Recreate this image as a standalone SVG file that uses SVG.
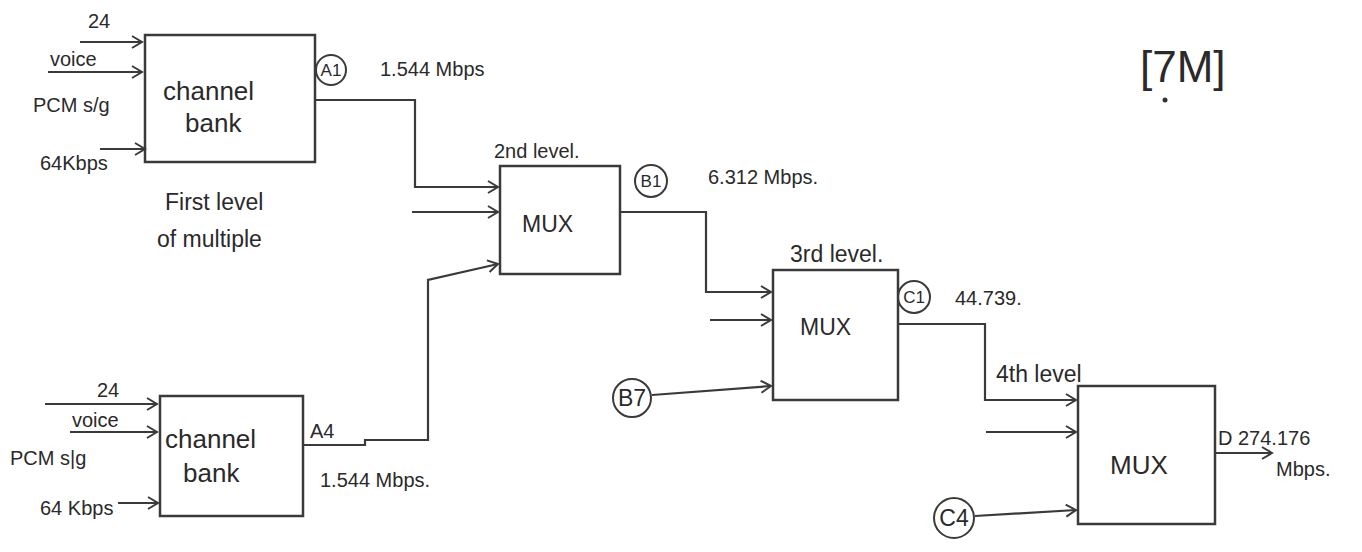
<svg xmlns="http://www.w3.org/2000/svg" width="1362" height="552" viewBox="0 0 1362 552">
<style>
.b{fill:none;stroke:#3a3a3a;stroke-width:2.5}
.w{fill:none;stroke:#3a3a3a;stroke-width:2.2}
.a{fill:none;stroke:#3a3a3a;stroke-width:2.2;marker-end:url(#ah)}
.c{fill:none;stroke:#3a3a3a;stroke-width:2}
text{font-family:"Liberation Sans",sans-serif;fill:#2a2a2a}
.t{font-size:23px}
.s{font-size:20px}
.m{font-size:17px;text-anchor:middle}
.bx{font-size:26px}
</style>
<defs>
<marker id="ah" markerWidth="14" markerHeight="14" refX="12" refY="7" orient="auto" markerUnits="userSpaceOnUse">
<path d="M2,1 L12,7 L2,13" fill="none" stroke="#3a3a3a" stroke-width="2"/>
</marker>
</defs>
<rect width="1362" height="552" fill="#fff"/>
<g id="cb1">
<rect class="b" x="145" y="35" width="170" height="127"/>
<text class="bx" x="163" y="100">channel</text>
<text class="bx" x="185" y="132">bank</text>
</g>
<g id="cb1-labels">
<text class="s" x="88" y="28">24</text>
<text class="s" x="50" y="66">voice</text>
<text class="s" x="33" y="112">PCM s/g</text>
<text class="s" x="40" y="170">64Kbps</text>
<text class="t" x="165" y="210">First level</text>
<text class="t" x="157" y="247">of multiple</text>
</g>
<g id="cb2">
<rect class="b" x="160" y="396" width="143" height="120"/>
<text class="bx" x="165" y="448">channel</text>
<text class="bx" x="183" y="482">bank</text>
</g>
<g id="cb2-labels">
<text class="s" x="97" y="397">24</text>
<text class="s" x="72" y="427">voice</text>
<text class="s" x="10" y="465">PCM s|g</text>
<text class="s" x="40" y="515">64 Kbps</text>
</g>
<g id="mux1">
<rect class="b" x="500" y="166" width="120" height="108"/>
<text class="t" x="522" y="232">MUX</text>
<text class="s" x="494" y="158">2nd level.</text>
</g>
<g id="mux2">
<rect class="b" x="773" y="270" width="125" height="130"/>
<text class="t" x="800" y="335">MUX</text>
<text class="t" x="790" y="262">3rd level.</text>
</g>
<g id="mux3">
<rect class="b" x="1078" y="386" width="137" height="138"/>
<text class="bx" x="1110" y="474">MUX</text>
<text class="t" x="996" y="382">4th level</text>
</g>
<g id="a1">
<circle class="c" cx="331" cy="70" r="15"/>
<text class="m" x="331" y="76">A1</text>
<text class="s" x="380" y="76">1.544 Mbps</text>
</g>
<g id="a4">
<text class="s" x="310" y="438">A4</text>
<text class="s" x="320" y="487">1.544 Mbps.</text>
</g>
<g id="b1">
<circle class="c" cx="651" cy="181" r="16"/>
<text class="m" x="651" y="187">B1</text>
<text class="s" x="708" y="184">6.312 Mbps.</text>
</g>
<g id="b7">
<circle class="c" cx="632" cy="398" r="19"/>
<text class="t" x="632" y="406" text-anchor="middle">B7</text>
</g>
<g id="c1">
<circle class="c" cx="914" cy="297" r="16"/>
<text class="m" x="914" y="303">C1</text>
<text class="s" x="955" y="305">44.739.</text>
</g>
<g id="c4">
<circle class="c" cx="954" cy="518" r="20"/>
<text class="t" x="954" y="526" text-anchor="middle">C4</text>
</g>
<g id="d">
<text class="s" x="1218" y="445">D 274.176</text>
<text class="s" x="1276" y="476">Mbps.</text>
</g>
<g id="mark">
<text x="1140" y="82" style="font-size:44px">[7M]</text>
<circle cx="1165" cy="100" r="2.5" fill="#333"/>
</g>
<g id="connectors">
<line class="a" x1="80" y1="42" x2="142" y2="42"/>
<line class="a" x1="48" y1="72" x2="142" y2="72"/>
<line class="a" x1="100" y1="149" x2="145" y2="149"/>
<line class="a" x1="45" y1="404" x2="157" y2="404"/>
<line class="a" x1="70" y1="432" x2="157" y2="432"/>
<line class="a" x1="118" y1="503" x2="158" y2="503"/>
<polyline class="a" points="315,100 415,100 415,187 498,187"/>
<line class="a" x1="412" y1="212" x2="498" y2="212"/>
<polyline class="a" points="303,445 365,445 365,440 428,440 428,280 498,264"/>
<polyline class="a" points="620,212 706,212 706,292 771,292"/>
<line class="a" x1="710" y1="320" x2="771" y2="320"/>
<line class="a" x1="652" y1="395" x2="771" y2="386"/>
<polyline class="a" points="898,324 985,324 985,400 1076,400"/>
<line class="a" x1="986" y1="432" x2="1076" y2="432"/>
<line class="a" x1="975" y1="516" x2="1076" y2="510"/>
<line class="a" x1="1215" y1="453" x2="1272" y2="453"/>
</g>
</svg>
